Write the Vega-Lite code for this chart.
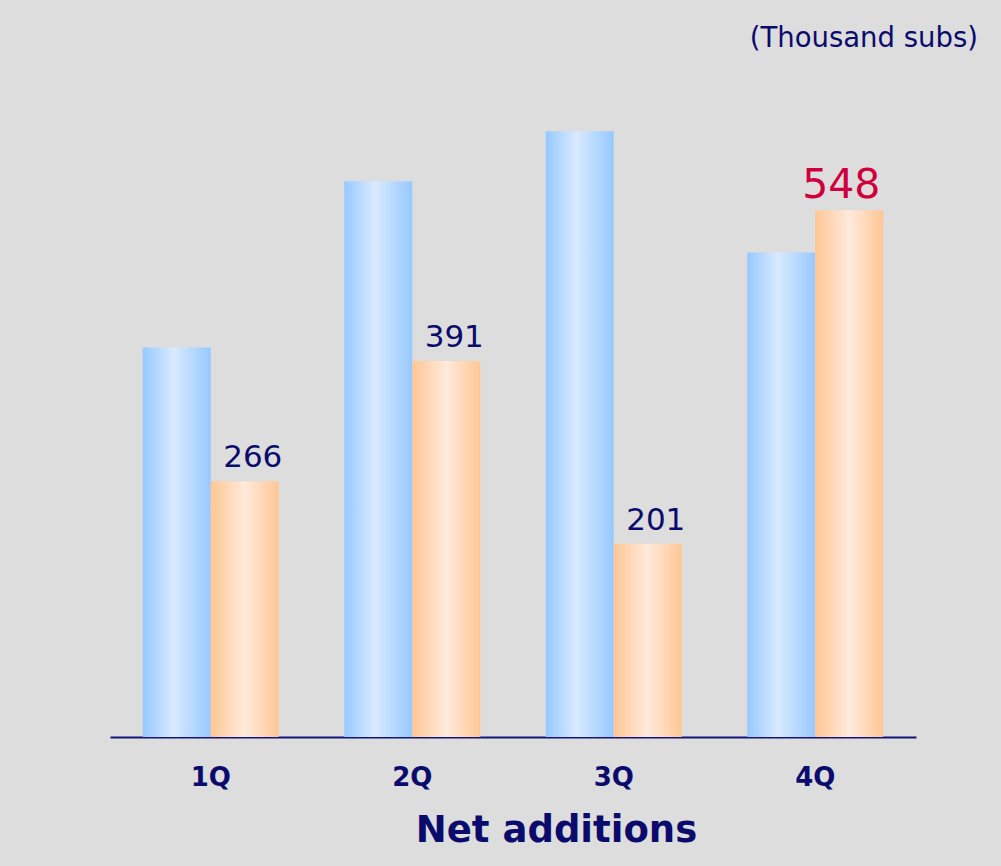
{
  "$schema": "https://vega.github.io/schema/vega-lite/v6.json",
  "autosize": "none",
  "width": 806,
  "height": 673,
  "padding": {"left": 110, "top": 64, "right": 85, "bottom": 129},
  "background": "#dddddd",
  "title": {
    "text": "(Thousand subs)",
    "anchor": "end",
    "frame": "group",
    "orient": "top",
    "baseline": "alphabetic",
    "offset": -10,
    "dx": 62,
    "font": "DejaVu Sans",
    "fontSize": 27.5,
    "fontWeight": "normal",
    "color": "#0b0b6e"
  },
  "config": {
    "view": {"stroke": null},
    "font": "DejaVu Sans"
  },
  "data": {
    "values": [
      {"q": "1Q", "series": "prev", "value": 405},
      {"q": "1Q", "series": "curr", "value": 266},
      {"q": "2Q", "series": "prev", "value": 578},
      {"q": "2Q", "series": "curr", "value": 391},
      {"q": "3Q", "series": "prev", "value": 630},
      {"q": "3Q", "series": "curr", "value": 201},
      {"q": "4Q", "series": "prev", "value": 504},
      {"q": "4Q", "series": "curr", "value": 548}
    ]
  },
  "encoding": {
    "x": {
      "field": "q",
      "type": "nominal",
      "sort": ["1Q", "2Q", "3Q", "4Q"],
      "scale": {"paddingInner": 0.325, "paddingOuter": 0.1625},
      "axis": {
        "title": "Net additions",
        "titleX": 446,
        "titleAlign": "center",
        "labelAngle": 0,
        "ticks": false,
        "domainColor": "#14147a",
        "domainWidth": 2,
        "labelFont": "DejaVu Sans",
        "labelFontSize": 26,
        "labelFontWeight": "bold",
        "labelColor": "#0b0b6e",
        "labelPadding": 27,
        "titleFont": "DejaVu Sans",
        "titleFontSize": 37,
        "titleFontWeight": "bold",
        "titleColor": "#0b0b6e",
        "titlePadding": 22
      }
    },
    "xOffset": {
      "field": "series",
      "type": "nominal",
      "scale": {"domain": ["prev", "curr"], "paddingInner": 0, "paddingOuter": 0}
    },
    "y": {
      "field": "value",
      "type": "quantitative",
      "scale": {"domain": [0, 700], "nice": false, "zero": true},
      "axis": null
    }
  },
  "layer": [
    {
      "transform": [{"filter": "datum.series === 'prev'"}],
      "mark": {
        "type": "bar",
        "fill": {
          "gradient": "linear",
          "x1": 0, "y1": 0, "x2": 1, "y2": 0,
          "stops": [
            {"offset": 0, "color": "#96c9ff"},
            {"offset": 0.45, "color": "#d9eaff"},
            {"offset": 1, "color": "#96c9ff"}
          ]
        }
      }
    },
    {
      "transform": [{"filter": "datum.series === 'curr'"}],
      "mark": {
        "type": "bar",
        "fill": {
          "gradient": "linear",
          "x1": 0, "y1": 0, "x2": 1, "y2": 0,
          "stops": [
            {"offset": 0, "color": "#ffc694"},
            {"offset": 0.5, "color": "#ffeadb"},
            {"offset": 1, "color": "#ffc694"}
          ]
        }
      }
    },
    {
      "transform": [{"filter": "datum.series === 'curr' && datum.q !== '4Q'"}],
      "mark": {
        "type": "text",
        "baseline": "alphabetic",
        "dy": -14,
        "dx": 8,
        "font": "DejaVu Sans",
        "fontSize": 31,
        "color": "#0b0b6e"
      },
      "encoding": {"text": {"field": "value", "type": "quantitative"}}
    },
    {
      "transform": [{"filter": "datum.series === 'curr' && datum.q === '4Q'"}],
      "mark": {
        "type": "text",
        "baseline": "alphabetic",
        "dy": -12,
        "dx": -8,
        "font": "DejaVu Sans",
        "fontSize": 41,
        "color": "#d0003c"
      },
      "encoding": {"text": {"field": "value", "type": "quantitative"}}
    }
  ]
}
